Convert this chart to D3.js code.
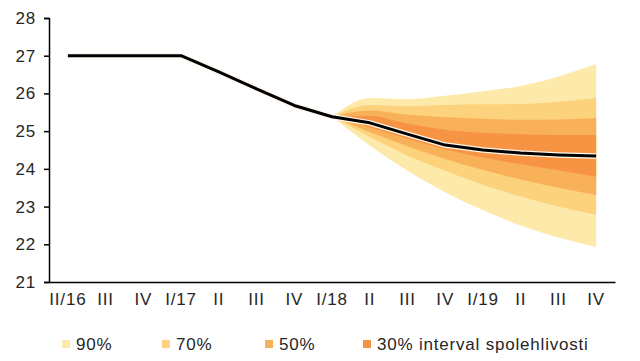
<!DOCTYPE html>
<html>
<head>
<meta charset="utf-8">
<script src="https://cdn.jsdelivr.net/npm/d3@7"></script>
<style>
  body { margin: 0; background: white; }
  text { font-family: "Liberation Sans", Arial, sans-serif; fill: #262626; }
</style>
</head>
<body>
<script>
var quarters = ["II/16","III","IV","I/17","II","III","IV","I/18","II","III","IV","I/19","II","III","IV"];
var yTicks = [21,22,23,24,25,26,27,28];

// central projection (whole range)
var lineValues = [27.0,27.0,27.0,27.0,26.57,26.12,25.68,25.38,25.22,24.92,24.63,24.50,24.42,24.37,24.34];

// fan bounds, from I/18 (index 7) to IV/19
var fanStart = 7;
var hi90 = [25.38,25.88,25.85,25.94,26.06,26.20,26.45,26.78];
var hi70 = [25.38,25.69,25.66,25.69,25.71,25.72,25.78,25.88];
var hi50 = [25.38,25.55,25.44,25.37,25.33,25.30,25.31,25.35];
var hi30 = [25.38,25.40,25.20,25.04,24.96,24.92,24.90,24.90];
var lo30 = [25.38,25.10,24.80,24.52,24.30,24.12,23.96,23.79];
var lo50 = [25.38,24.98,24.60,24.26,23.97,23.72,23.50,23.31];
var lo70 = [25.38,24.85,24.35,23.95,23.58,23.27,23.00,22.78];
var lo90 = [25.38,24.62,23.95,23.38,22.90,22.50,22.18,21.93];

var bandNames = ["90%","70%","50%","30% interval spolehlivosti"];
var bandColors = ["#fde9a9","#fcd27c","#f9b159","#f79443"];

var width = 640, height = 361;
var svg = d3.select("body").append("svg").attr("width", width).attr("height", height);

var x = d3.scaleBand().domain(d3.range(quarters.length)).range([49, 615]).padding(0);
var cx = i => x(i) + x.bandwidth() / 2;
var y = d3.scaleLinear().domain([21, 28]).range([282, 18]);

// fan
var bands = [[hi90, lo90], [hi70, lo70], [hi50, lo50], [hi30, lo30]];
var area = d3.area()
  .x((d, i) => cx(i + fanStart))
  .y0(d => y(d[1]))
  .y1(d => y(d[0]))
  .curve(d3.curveMonotoneX);

bands.forEach(function (b, k) {
  var pts = b[0].map((v, i) => [v, b[1][i]]);
  svg.append("path")
    .datum(pts)
    .attr("fill", bandColors[k])
    .attr("d", area);
});

// central line
var lineGen = d3.line()
  .x((d, i) => cx(i))
  .y(d => y(d));

svg.append("path")
  .datum(lineValues)
  .attr("fill", "none")
  .attr("stroke", "#fff8ec")
  .attr("stroke-width", 5.5)
  .attr("d", lineGen);

svg.append("path")
  .datum(lineValues)
  .attr("fill", "none")
  .attr("stroke", "#000")
  .attr("stroke-width", 3)
  .attr("stroke-linejoin", "round")
  .attr("d", lineGen);

var font = "'Liberation Sans', Arial, sans-serif";

// y axis
var yAxis = d3.axisLeft(y).tickValues(yTicks).tickFormat(d3.format("d")).tickSize(5).tickPadding(8);
var yG = svg.append("g").attr("transform", "translate(49,0)").call(yAxis);
yG.select(".domain").attr("stroke", "#000").attr("stroke-width", 1.5);
yG.selectAll(".tick line").attr("stroke", "#000").attr("stroke-width", 1.5);
yG.selectAll(".tick text").attr("font-size", 17).attr("fill", "#262626")
  .style("font-family", font).style("letter-spacing", "0.8px");

// x axis
var xAxis = d3.axisBottom(x).tickSize(0).tickPadding(11).tickFormat(i => quarters[i]);
var xG = svg.append("g").attr("transform", "translate(0,282)").call(xAxis);
xG.select(".domain").attr("stroke", "#000").attr("stroke-width", 1.5);
xG.selectAll(".tick text").attr("font-size", 17).attr("fill", "#262626")
  .style("font-family", font).style("letter-spacing", "0.8px");

// legend
var legendX = [62, 162, 265, 363];
var lg = svg.append("g");
bandNames.forEach(function (n, k) {
  lg.append("rect")
    .attr("x", legendX[k]).attr("y", 340)
    .attr("width", 8).attr("height", 8)
    .attr("fill", bandColors[k]);
  lg.append("text")
    .attr("x", legendX[k] + 14).attr("y", 350)
    .attr("font-size", 17)
    .style("letter-spacing", "0.8px")
    .text(n);
});
</script>
</body>
</html>
